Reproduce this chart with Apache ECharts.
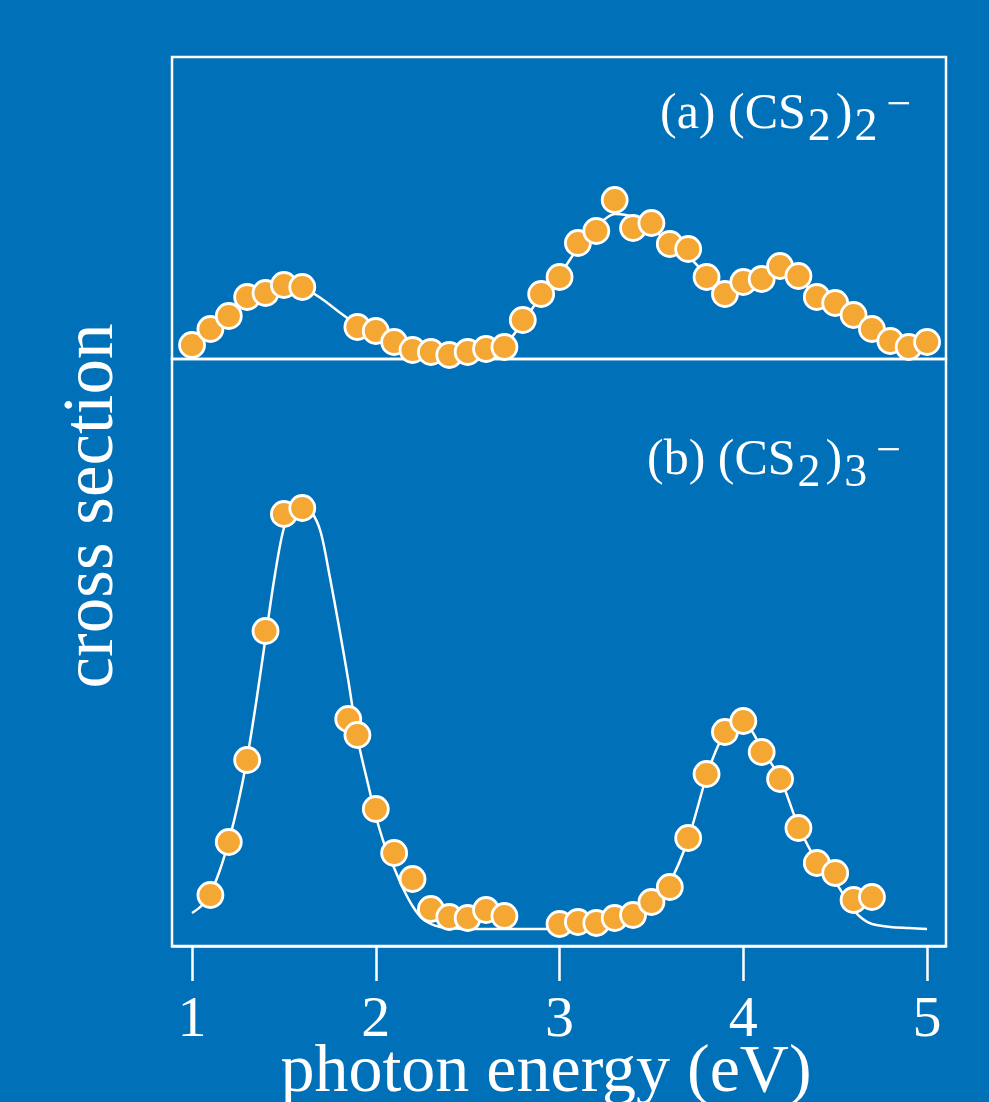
<!DOCTYPE html>
<html>
<head>
<meta charset="utf-8">
<script src="https://cdn.jsdelivr.net/npm/echarts@6/dist/echarts.min.js"></script>
<style>
html,body{margin:0;padding:0;background:#0070B8;}
#chart{width:989px;height:1102px;}
</style>
</head>
<body>
<div id="chart"></div>
<script>
// ---- data (photon energy in eV, cross section in arbitrary units) ----
const xTicks = [1, 2, 3, 4, 5];

// (a) (CS2)2-  measured points
const dimerPoints = [
  [1.0,0.14],[1.1,0.30],[1.2,0.43],[1.3,0.62],[1.4,0.66],[1.5,0.74],[1.6,0.72],
  [1.9,0.32],[2.0,0.28],[2.1,0.17],[2.2,0.09],[2.3,0.07],[2.4,0.04],[2.5,0.07],
  [2.6,0.10],[2.7,0.12],[2.8,0.39],[2.9,0.65],[3.0,0.82],[3.1,1.16],[3.2,1.28],
  [3.3,1.59],[3.4,1.31],[3.5,1.36],[3.6,1.15],[3.7,1.10],[3.8,0.82],[3.9,0.65],
  [4.0,0.77],[4.1,0.80],[4.2,0.93],[4.3,0.83],[4.4,0.62],[4.5,0.56],[4.6,0.44],
  [4.7,0.30],[4.8,0.18],[4.9,0.12],[5.0,0.17]
];
// (a) smooth curve
const dimerFit = [
  [1.0,0.14],[1.1,0.29],[1.2,0.44],[1.3,0.59],[1.4,0.68],[1.5,0.72],[1.6,0.71],
  [1.7,0.61],[1.8,0.47],[1.9,0.34],[2.0,0.25],[2.1,0.17],[2.2,0.11],[2.3,0.07],
  [2.4,0.06],[2.5,0.07],[2.6,0.09],[2.7,0.14],[2.8,0.37],[2.9,0.63],[3.0,0.84],
  [3.1,1.11],[3.2,1.32],[3.3,1.45],[3.4,1.42],[3.5,1.30],[3.6,1.17],[3.7,1.03],
  [3.8,0.84],[3.9,0.71],[4.0,0.76],[4.1,0.83],[4.2,0.89],[4.3,0.79],[4.4,0.65],
  [4.5,0.55],[4.6,0.43],[4.7,0.30],[4.8,0.19],[4.9,0.14],[5.0,0.16]
];

// (b) (CS2)3-  measured points
const trimerPoints = [
  [1.1,0.51],[1.2,1.04],[1.3,1.86],[1.4,3.15],[1.5,4.32],[1.6,4.38],
  [1.85,2.27],[1.9,2.11],[2.0,1.37],[2.1,0.93],[2.2,0.67],[2.3,0.37],[2.4,0.29],
  [2.5,0.28],[2.6,0.36],[2.7,0.30],[3.0,0.22],[3.1,0.24],[3.2,0.23],[3.3,0.28],
  [3.4,0.31],[3.5,0.44],[3.6,0.59],[3.7,1.08],[3.8,1.72],[3.9,2.14],[4.0,2.25],
  [4.1,1.94],[4.2,1.67],[4.3,1.18],[4.4,0.83],[4.5,0.73],[4.6,0.46],[4.7,0.49]
];
// (b) smooth curve
const trimerFit = [
  [1.0,0.33],[1.05,0.40],[1.1,0.53],[1.15,0.75],[1.2,1.05],[1.25,1.42],[1.3,1.88],
  [1.35,2.45],[1.4,3.08],[1.45,3.70],[1.5,4.18],[1.55,4.36],[1.6,4.40],[1.65,4.34],
  [1.7,4.14],[1.75,3.69],[1.8,3.19],[1.85,2.66],[1.9,2.08],[1.95,1.68],[2.0,1.30],
  [2.05,1.00],[2.1,0.78],[2.15,0.57],[2.2,0.40],[2.25,0.28],[2.3,0.22],[2.35,0.19],
  [2.4,0.18],[2.5,0.17],[2.6,0.17],[2.7,0.17],[2.8,0.17],[2.9,0.17],[3.0,0.17],
  [3.1,0.18],[3.2,0.20],[3.3,0.25],[3.4,0.32],[3.5,0.44],[3.6,0.64],[3.7,1.07],
  [3.8,1.70],[3.85,1.95],[3.9,2.13],[3.95,2.22],[4.0,2.24],[4.05,2.14],[4.1,1.97],
  [4.2,1.68],[4.3,1.20],[4.4,0.85],[4.5,0.64],[4.55,0.50],[4.6,0.36],[4.65,0.27],
  [4.7,0.22],[4.8,0.19],[4.9,0.18],[5.0,0.17]
];

const xMin = 0.891, xMax = 5.103;
const topYMax = 3.02, bottomYMax = 5.87;

// ---- style ----
const BG = '#0070B8';
const ORANGE = '#F4A733';
const WHITE = '#FFFFFF';
const SERIF = '"Liberation Serif", "DejaVu Serif", serif';

const chart = echarts.init(document.getElementById('chart'), null, {renderer: 'canvas'});

function labelRich() {
  return {
    n: {fontSize: 50, fontFamily: SERIF, fill: WHITE, lineHeight: 80},
    s: {fontSize: 46, fontFamily: SERIF, fill: WHITE, lineHeight: 44, padding: [26, 5, 0, 2]},
    p: {fontSize: 44, fontFamily: SERIF, fill: WHITE, lineHeight: 44, padding: [0, 2, 18, 4]}
  };
}

const scatterStyle = {
  color: ORANGE,
  borderColor: WHITE,
  borderWidth: 2.8,
  opacity: 1
};

const option = {
  backgroundColor: BG,
  animation: false,
  grid: [
    {left: 172, width: 774, top: 57, height: 302, show: true, containLabel: false,
     outerBoundsMode: 'none',
     borderColor: WHITE, borderWidth: 2.5, backgroundColor: 'transparent'},
    {left: 172, width: 774, top: 359, height: 587, show: true, containLabel: false,
     outerBoundsMode: 'none',
     borderColor: WHITE, borderWidth: 2.5, backgroundColor: 'transparent'}
  ],
  xAxis: [
    {gridIndex: 0, type: 'value', min: xMin, max: xMax, show: false},
    {gridIndex: 1, type: 'value', min: xMin, max: xMax,
     axisLine: {show: true, lineStyle: {color: WHITE, width: 2.5}},
     axisTick: {show: true, customValues: xTicks, length: 35, lineStyle: {color: WHITE, width: 2.5}},
     axisLabel: {show: true, customValues: xTicks, margin: 46, color: WHITE,
                 fontSize: 58, fontFamily: SERIF},
     splitLine: {show: false},
     name: 'photon energy (eV)', nameLocation: 'middle', nameGap: 93,
     nameMoveOverlap: false,
     nameTextStyle: {color: WHITE, fontSize: 68, fontFamily: SERIF, padding: [0, 26, 0, 0]}}
  ],
  yAxis: [
    {gridIndex: 0, type: 'value', min: 0, max: topYMax, show: false},
    {gridIndex: 1, type: 'value', min: 0, max: bottomYMax, show: false}
  ],
  series: [
    {type: 'line', xAxisIndex: 0, yAxisIndex: 0, data: dimerFit, smooth: 0.3,
     showSymbol: false, symbol: 'none', lineStyle: {color: WHITE, width: 2.5}, z: 2},
    {type: 'scatter', xAxisIndex: 0, yAxisIndex: 0, data: dimerPoints,
     symbol: 'circle', symbolSize: 25, itemStyle: scatterStyle, clip: false, z: 3},
    {type: 'line', xAxisIndex: 1, yAxisIndex: 1, data: trimerFit, smooth: 0.3,
     showSymbol: false, symbol: 'none', lineStyle: {color: WHITE, width: 2.5}, z: 2},
    {type: 'scatter', xAxisIndex: 1, yAxisIndex: 1, data: trimerPoints,
     symbol: 'circle', symbolSize: 25, itemStyle: scatterStyle, clip: false, z: 3}
  ],
  graphic: [
    {type: 'text', x: 93, y: 506, rotation: Math.PI / 2,
     style: {text: 'cross section', fill: WHITE, fontSize: 71, fontFamily: SERIF,
             align: 'center', verticalAlign: 'middle'}},
    {type: 'text', x: 660, y: 75,
     style: {text: '{n|(a) (CS}{s|2}{n|)}{s|2}{p|\u2212}', fill: WHITE, fontSize: 50,
             fontFamily: SERIF, align: 'left', verticalAlign: 'top', rich: labelRich()}},
    {type: 'text', x: 647, y: 421,
     style: {text: '{n|(b) (CS}{s|2}{n|)}{s|3}{p|\u2212}', fill: WHITE, fontSize: 50,
             fontFamily: SERIF, align: 'left', verticalAlign: 'top', rich: labelRich()}}
  ]
};

chart.setOption(option);
</script>
</body>
</html>
